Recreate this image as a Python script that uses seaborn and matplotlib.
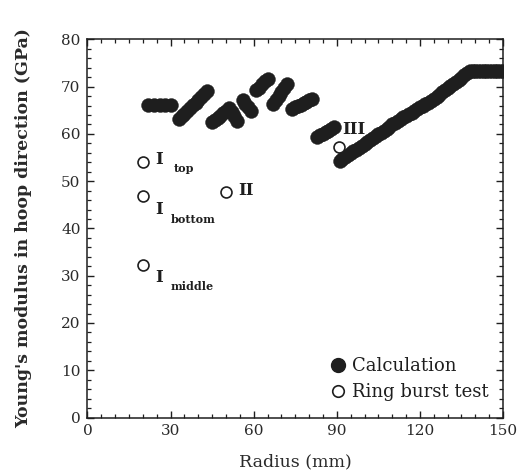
import matplotlib
matplotlib.use("Agg")
import matplotlib.pyplot as plt
from matplotlib.lines import Line2D
from matplotlib.ticker import MultipleLocator
import seaborn as sns
import pandas as pd

# Calculated hoop-direction Young's modulus along the radius
radius_calc = (
    [22, 24, 26, 28, 30]
    + [33, 34, 35, 36, 37, 38, 39, 40, 41, 42, 43]
    + [45, 46, 47, 48, 49, 50, 51, 52, 53, 54]
    + [56, 57, 58, 59]
    + [61, 62, 63, 64, 65]
    + [67, 68, 69, 70, 71, 72]
    + [74, 75, 76, 77, 78, 79, 80, 81]
    + [83, 84, 85, 86, 87, 88, 89]
    + list(range(91, 151))
)
modulus_calc = (
    [66.2, 66.2, 66.2, 66.2, 66.2]
    + [63.2, 63.8, 64.3, 64.9, 65.5, 66.1, 66.6, 67.2, 67.8, 68.4, 69.0]
    + [62.5, 62.9, 63.4, 63.9, 64.4, 64.9, 65.5, 64.6, 63.7, 62.8]
    + [67.1, 66.4, 65.6, 64.8]
    + [69.2, 69.8, 70.5, 71.1, 71.7]
    + [66.3, 67.1, 68.0, 68.9, 69.8, 70.6]
    + [65.3, 65.6, 65.9, 66.2, 66.5, 66.8, 67.1, 67.4]
    + [59.3, 59.7, 60.0, 60.4, 60.7, 61.1, 61.4]
    + [54.3, 54.7, 55.1, 55.5, 55.9, 56.3, 56.7, 57.1, 57.5, 57.9,
       58.3, 58.7, 59.1, 59.5, 59.9, 60.3, 60.7, 61.1, 61.5, 62.0,
       62.4, 62.8, 63.1, 63.5, 63.8, 64.2, 64.5, 64.9, 65.2, 65.6,
       65.9, 66.3, 66.6, 67.0, 67.4, 67.9, 68.3, 68.8, 69.2, 69.7,
       70.1, 70.6, 71.0, 71.5, 71.9, 72.4, 72.8, 73.3,
       73.4, 73.4, 73.4, 73.4, 73.4, 73.4, 73.4, 73.4, 73.4, 73.4,
       73.4, 73.4]
)

# Ring burst test results
radius_test = [20.2, 20.2, 20.2, 50.0, 90.8]
modulus_test = [54.1, 46.9, 32.2, 47.8, 57.2]

calc_df = pd.DataFrame({"Radius": radius_calc, "Modulus": modulus_calc})
test_df = pd.DataFrame({"Radius": radius_test, "Modulus": modulus_test})

sns.set_theme(style="ticks")
plt.rcParams["font.family"] = ["DejaVu Serif"]
plt.rcParams["mathtext.fontset"] = "dejavuserif"

fig = plt.figure(figsize=(5.27, 4.75), dpi=100)
ax = fig.add_axes([0.166, 0.121, 0.7885, 0.796])

sns.scatterplot(data=calc_df, x="Radius", y="Modulus", ax=ax, s=100,
                color="#1e1e1e", edgecolor="#1e1e1e", linewidth=0.3,
                zorder=3, legend=False)
sns.scatterplot(data=test_df, x="Radius", y="Modulus", ax=ax, s=62,
                facecolor="white", edgecolor="#1e1e1e", linewidth=1.2,
                zorder=4, legend=False)

# Specimen labels
bold = dict(color="#1e1e1e", fontweight="bold", family="DejaVu Serif")
ax.text(26.0, 54.5, "I", fontsize=12, va="center", ha="center", **bold)
ax.text(31.0, 52.6, "top", fontsize=8, va="center", ha="left", **bold)
ax.text(26.0, 44.0, "I", fontsize=12, va="center", ha="center", **bold)
ax.text(30.0, 42.0, "bottom", fontsize=8, va="center", ha="left", **bold)
ax.text(26.0, 29.6, "I", fontsize=12, va="center", ha="center", **bold)
ax.text(30.0, 27.8, "middle", fontsize=8, va="center", ha="left", **bold)
ax.text(57.3, 48.0, "II", fontsize=12, va="center", ha="center", **bold)
ax.text(96.3, 61.0, "III", fontsize=12, va="center", ha="center", **bold)

ax.set_xlim(0, 150)
ax.set_ylim(0, 80)
ax.xaxis.set_major_locator(MultipleLocator(30))
ax.xaxis.set_minor_locator(MultipleLocator(5))
ax.yaxis.set_major_locator(MultipleLocator(10))
ax.yaxis.set_minor_locator(MultipleLocator(2))
ax.tick_params(which="both", direction="in", top=True, right=True,
               colors="#1e1e1e", labelcolor="#2a2a2a", labelsize=11)
ax.tick_params(which="major", length=5, width=1.0, pad=5)
ax.tick_params(which="minor", length=2.6, width=0.9)
for sp in ax.spines.values():
    sp.set_linewidth(1.1)
    sp.set_color("#1e1e1e")
    sp.set_visible(True)

ax.set_xlabel("Radius (mm)", fontsize=12.5, color="#2a2a2a", labelpad=11)
ax.set_ylabel("Young's modulus in hoop direction (GPa)", fontsize=12.5,
              fontweight="bold", color="#2a2a2a", labelpad=21)

handles = [
    Line2D([], [], linestyle="none", marker="o", markersize=10,
           markerfacecolor="#1e1e1e", markeredgecolor="#1e1e1e",
           label="Calculation"),
    Line2D([], [], linestyle="none", marker="o", markersize=8.3,
           markerfacecolor="white", markeredgecolor="#1e1e1e",
           markeredgewidth=1.2, label="Ring burst test"),
]
ax.legend(handles=handles, loc="lower right", bbox_to_anchor=(0.995, 0.01),
          frameon=False, fontsize=13, handlelength=0.8, handletextpad=0.35,
          labelspacing=0.45, borderaxespad=0.3, labelcolor="#1e1e1e")

fig.savefig("out.png", dpi=100, facecolor="white")
